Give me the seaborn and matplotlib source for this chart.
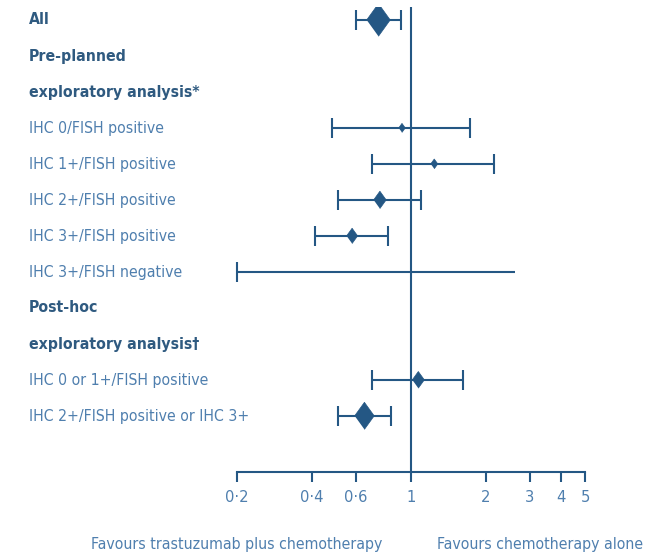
import numpy as np
import pandas as pd
import matplotlib
matplotlib.use("Agg")
import matplotlib.pyplot as plt
import seaborn as sns
from matplotlib.ticker import FixedLocator, FixedFormatter, NullLocator

# ---- data ----
labels = ["All", "Pre-planned", "exploratory analysis*",
          "IHC 0/FISH positive", "IHC 1+/FISH positive", "IHC 2+/FISH positive",
          "IHC 3+/FISH positive", "IHC 3+/FISH negative",
          "Post-hoc", "exploratory analysis\u2020",
          "IHC 0 or 1+/FISH positive", "IHC 2+/FISH positive or IHC 3+"]
is_header = [True, True, True, False, False, False, False, False, True, True, False, False]
hr = [0.74, np.nan, np.nan, 0.92, 1.24, 0.75, 0.58, np.nan, np.nan, np.nan, 1.07, 0.65]
ci_low = [0.60, np.nan, np.nan, 0.48, 0.70, 0.51, 0.41, 0.20, np.nan, np.nan, 0.70, 0.51]
ci_high = [0.91, np.nan, np.nan, 1.73, 2.15, 1.10, 0.81, 2.62, np.nan, np.nan, 1.62, 0.83]
weight = [23.5, 0, 0, 6.5, 7.0, 12.5, 11.0, 0, 0, 0, 12.0, 19.5]
tick_values = [0.2, 0.4, 0.6, 1, 2, 3, 4, 5]
tick_labels = ["0\u00b72", "0\u00b74", "0\u00b76", "1", "2", "3", "4", "5"]
left_label = "Favours trastuzumab plus chemotherapy"
right_label = "Favours chemotherapy alone"

df = pd.DataFrame({"label": labels, "header": is_header, "hr": hr,
                   "lo": ci_low, "hi": ci_high, "w": weight})
df["row"] = np.arange(len(df))

DARK = "#245784"
HEAD = "#2f5a80"
TEXT = "#4f7fae"
FS = 11.3

sns.set_style("white")
plt.rcParams["font.family"] = ["DejaVu Sans"]
plt.rcParams["font.stretch"] = "condensed"

fig = plt.figure(figsize=(6.46, 5.60), dpi=100)
ax = fig.add_axes([237/646, 1-472/560, (585-237)/646, (472-7)/560])
ax.set_xscale("log")
ax.set_xlim(0.2, 5)
ax.set_ylim(len(df) - 1 + 1.56, -0.36)

# confidence intervals
for _, r in df.iterrows():
    if np.isnan(r["lo"]):
        continue
    if np.isnan(r["hr"]):
        ax.plot([r["lo"], r["hi"]], [r["row"], r["row"]], color=DARK, lw=1.5,
                solid_capstyle="butt", clip_on=False)
        ax.plot([r["lo"]], [r["row"]], marker="|", ms=14, mew=1.5, color=DARK, clip_on=False)
    else:
        ax.errorbar(r["hr"], r["row"],
                    xerr=[[r["hr"] - r["lo"]], [r["hi"] - r["hr"]]],
                    fmt="none", ecolor=DARK, elinewidth=1.5, capsize=7, capthick=1.5)

diamond = [(-0.36, 0.0), (0.0, 0.5), (0.36, 0.0), (0.0, -0.5)]
pts = df.dropna(subset=["hr"])
sns.scatterplot(data=pts, x="hr", y="row", marker=diamond, color=DARK,
                s=(pts["w"] ** 2).values, edgecolor=DARK, linewidth=0.5,
                ax=ax, legend=False, zorder=5)

ax.axvline(1, color=DARK, lw=1.5, zorder=1)

for s in ["top", "right", "left"]:
    ax.spines[s].set_visible(False)
ax.spines["bottom"].set_color(DARK)
ax.spines["bottom"].set_linewidth(1.5)
ax.set_yticks([])
ax.xaxis.set_major_locator(FixedLocator(tick_values))
ax.xaxis.set_major_formatter(FixedFormatter(tick_labels))
ax.xaxis.set_minor_locator(NullLocator())
ax.tick_params(axis="x", which="major", direction="out", length=7, width=1.5,
               color=DARK, labelcolor=TEXT, labelsize=FS + 0.5, pad=6, bottom=True)
ax.set_xlabel("")
ax.set_ylabel("")

# row labels
for _, r in df.iterrows():
    y_pix = 20 + 36 * r["row"]
    fig.text(29/646, 1 - y_pix/560, r["label"], ha="left", va="center",
             fontsize=FS, color=HEAD if r["header"] else TEXT,
             fontweight="bold" if r["header"] else "normal")

fig.text(237/646, 1 - 545/560, left_label, ha="center", va="center",
         fontsize=FS, color=TEXT)
fig.text(540/646, 1 - 545/560, right_label, ha="center", va="center",
         fontsize=FS, color=TEXT)

fig.savefig("out.png", dpi=100, facecolor="white")
